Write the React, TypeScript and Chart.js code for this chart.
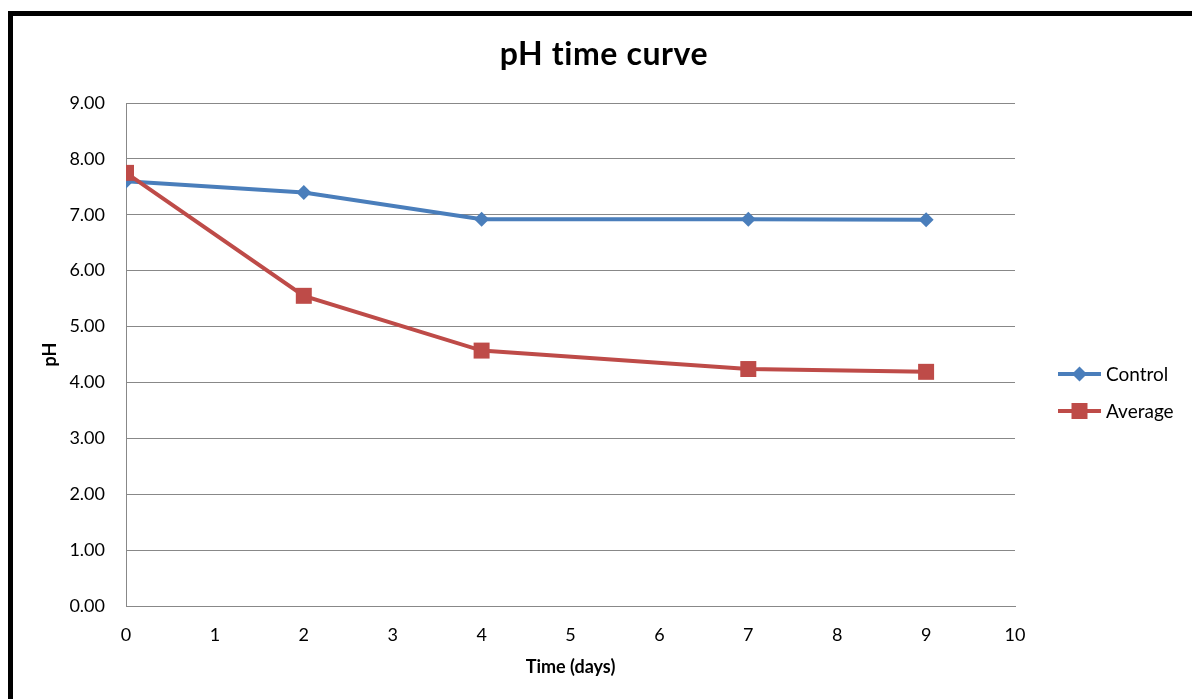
import React, { useEffect, useRef } from "react";
import { Chart, registerables } from "chart.js";

Chart.register(...registerables);

// Sampling days and measured pH
const days = [0, 2, 4, 7, 9];
const controlPH = [7.6, 7.4, 6.92, 6.92, 6.91];
const averagePH = [7.75, 5.55, 4.57, 4.24, 4.19];

const seriesNames = ["Control", "Average"];
const seriesColors = ["#4A7EBB", "#BE4B48"];

const chartTitle = "pH time curve";
const xTitle = "Time (days)";
const yTitle = "pH";

const FONT = "Lato, 'Open Sans', sans-serif";

function drawMarker(ctx: CanvasRenderingContext2D, kind: string, x: number, y: number, color: string) {
  ctx.save();
  ctx.fillStyle = color;
  ctx.beginPath();
  if (kind === "diamond") {
    const r = 7.5;
    ctx.moveTo(x, y - r);
    ctx.lineTo(x + r, y);
    ctx.lineTo(x, y + r);
    ctx.lineTo(x - r, y);
    ctx.closePath();
  } else {
    const h = 8;
    ctx.rect(x - h, y - h, 2 * h, 2 * h);
  }
  ctx.fill();
  ctx.restore();
}

const decorPlugin = {
  id: "decor",
  afterDraw(chart: any) {
    const ctx: any = chart.ctx;
    const area = chart.chartArea;
    ctx.save();
    ctx.fillStyle = "#000";
    ctx.textBaseline = "alphabetic";

    // Title (letter spacing also keeps "ti" from forming a ligature)
    ctx.font = `bold 32px ${FONT}`;
    ctx.letterSpacing = "0.6px";
    ctx.textAlign = "center";
    ctx.fillText(chartTitle, 604, 65);
    ctx.letterSpacing = "0px";

    // X axis title
    ctx.font = `bold 18px ${FONT}`;
    ctx.fillText(xTitle, (area.left + area.right) / 2, 673);

    // Y axis title (rotated)
    ctx.save();
    ctx.translate(56, (area.top + area.bottom) / 2);
    ctx.rotate(-Math.PI / 2);
    ctx.fillText(yTitle, 0, 0);
    ctx.restore();

    // Legend
    const rows = [374, 411];
    const kinds = ["diamond", "square"];
    ctx.font = `19px ${FONT}`;
    ctx.textAlign = "left";
    ctx.textBaseline = "middle";
    rows.forEach((y, i) => {
      ctx.strokeStyle = seriesColors[i];
      ctx.lineWidth = 4;
      ctx.beginPath();
      ctx.moveTo(1058, y);
      ctx.lineTo(1101, y);
      ctx.stroke();
      drawMarker(ctx, kinds[i], 1079.5, y, seriesColors[i]);
      ctx.fillStyle = "#000";
      ctx.fillText(seriesNames[i], 1106, y + 1);
    });
    ctx.restore();
  },
};

export default function App() {
  const canvasRef = useRef<HTMLCanvasElement | null>(null);

  useEffect(() => {
    const canvas = canvasRef.current;
    if (!canvas) return;
    const chart = new Chart(canvas, {
      type: "line",
      data: {
        datasets: [
          {
            label: seriesNames[0],
            data: days.map((d, i) => ({ x: d, y: controlPH[i] })),
            borderColor: seriesColors[0],
            backgroundColor: seriesColors[0],
            borderWidth: 4,
            pointStyle: "rectRot",
            pointRadius: 7.5,
            pointBorderWidth: 0,
            tension: 0,
            order: 1,
          },
          {
            label: seriesNames[1],
            data: days.map((d, i) => ({ x: d, y: averagePH[i] })),
            borderColor: seriesColors[1],
            backgroundColor: seriesColors[1],
            borderWidth: 4,
            pointStyle: "rect",
            pointRadius: 11.3,
            pointBorderWidth: 0,
            tension: 0,
            order: 0,
          },
        ],
      },
      options: {
        animation: false,
        responsive: true,
        maintainAspectRatio: false,
        layout: { padding: { top: 103, right: 177, left: 0, bottom: 0 } },
        plugins: {
          legend: { display: false },
          title: { display: false },
          tooltip: { enabled: false },
        },
        scales: {
          x: {
            type: "linear",
            min: 0,
            max: 10,
            afterFit: (scale: any) => {
              scale.height = 93;
            },
            ticks: {
              stepSize: 1,
              color: "#000",
              font: { family: FONT, size: 18 },
              padding: 18,
              maxRotation: 0,
            },
            grid: { display: false, drawTicks: false },
            border: { display: true, color: "#888888", width: 1 },
          },
          y: {
            min: 0,
            max: 9,
            afterFit: (scale: any) => {
              scale.width = 126;
            },
            ticks: {
              stepSize: 1,
              color: "#000",
              font: { family: FONT, size: 18 },
              padding: 21,
              callback: (v: any) => Number(v).toFixed(2),
            },
            grid: { color: "#888888", lineWidth: 1, drawTicks: false },
            border: { display: true, color: "#888888", width: 1 },
          },
        },
      },
      plugins: [decorPlugin],
    });
    return () => chart.destroy();
  }, []);

  return (
    <div
      style={{
        position: "fixed",
        left: 0,
        top: 0,
        width: 1192,
        height: 699,
        background: "#fff",
        overflow: "hidden",
      }}
    >
      <div
        style={{
          position: "absolute",
          left: 8,
          top: 11,
          width: 1300,
          height: 800,
          border: "5px solid #000",
          boxSizing: "border-box",
        }}
      />
      <div style={{ position: "absolute", left: 0, top: 0, width: 1192, height: 699 }}>
        <canvas ref={canvasRef} />
      </div>
    </div>
  );
}
